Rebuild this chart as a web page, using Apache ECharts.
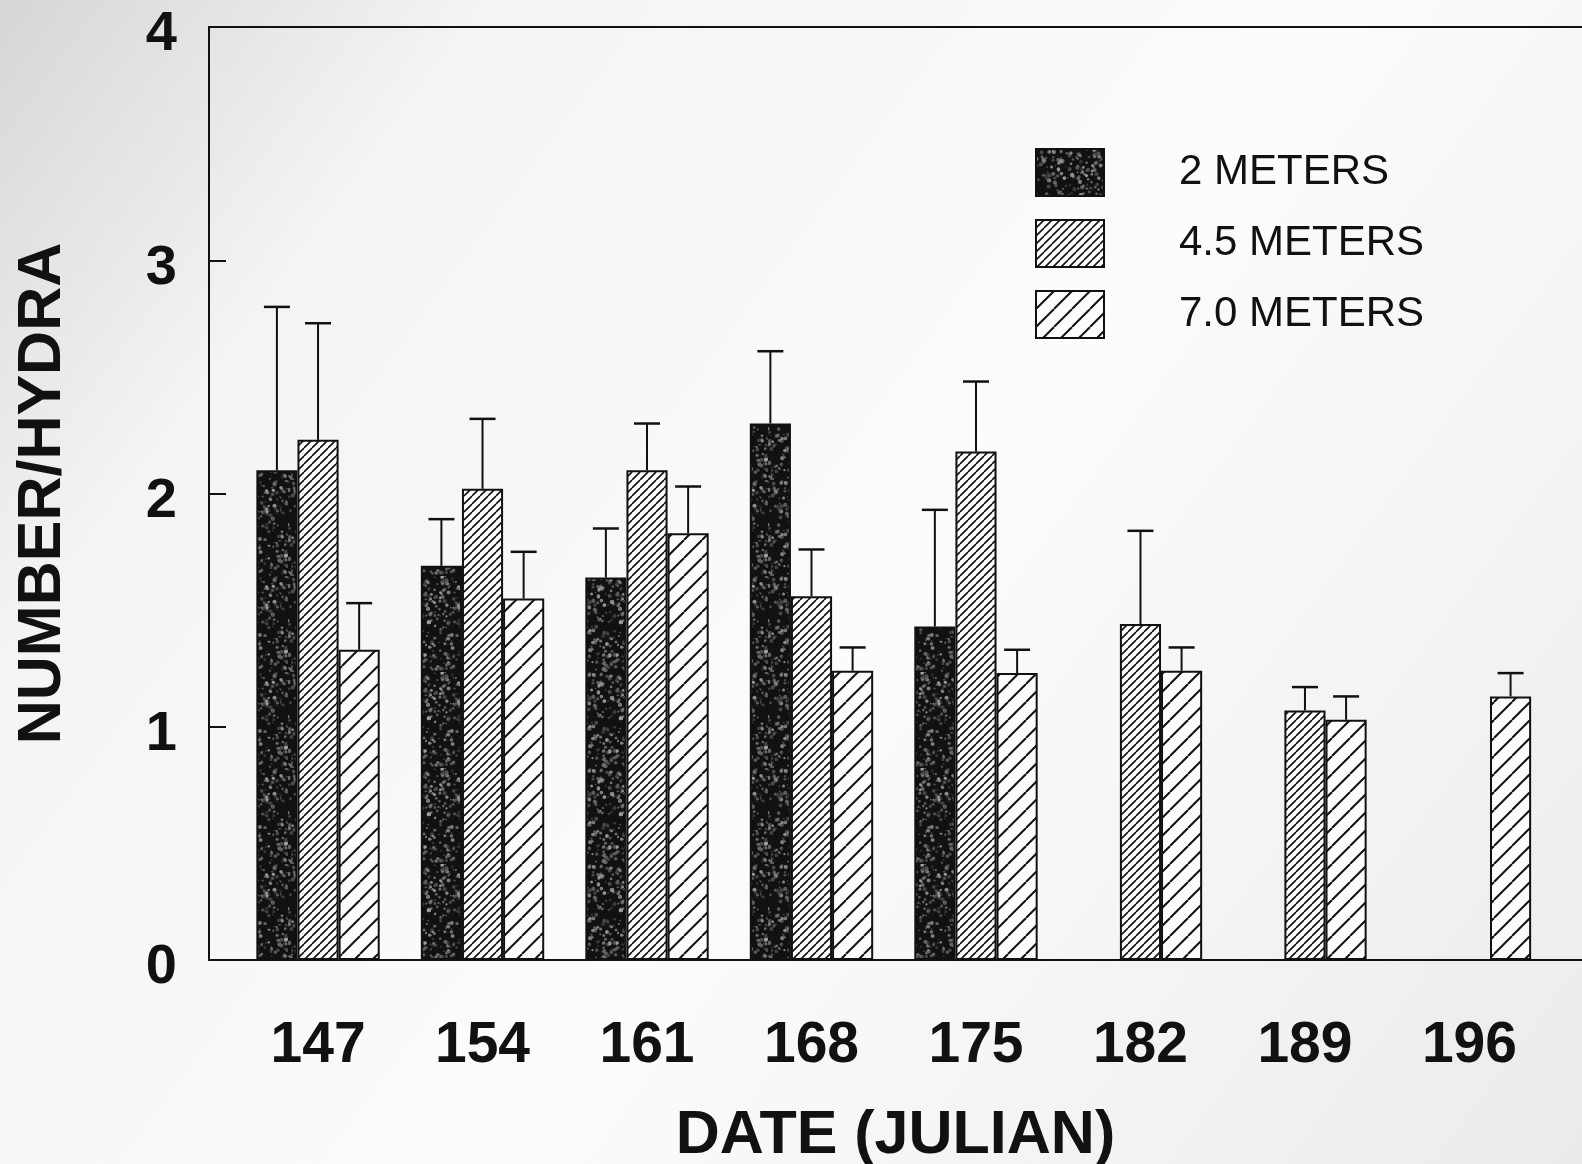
<!DOCTYPE html>
<html><head><meta charset="utf-8">
<script src="https://cdn.jsdelivr.net/npm/echarts@6/dist/echarts.min.js"></script>
<style>html,body{margin:0;padding:0;background:#fff}#c{width:1582px;height:1164px}</style>
</head><body><div id="c"></div>
<script>
// ---- data ----
const dates = [147, 154, 161, 168, 175, 182, 189, 196];
const seriesNames = ['2 METERS', '4.5 METERS', '7.0 METERS'];
const mean2m = [2.10, 1.69, 1.64, 2.30, 1.43, null, null, null];
const err2m  = [0.70, 0.20, 0.21, 0.31, 0.50, null, null, null];
const mean45 = [2.23, 2.02, 2.10, 1.56, 2.18, 1.44, 1.07, null];
const err45  = [0.50, 0.30, 0.20, 0.20, 0.30, 0.40, 0.10, null];
const mean70 = [1.33, 1.55, 1.83, 1.24, 1.23, 1.24, 1.03, 1.13];
const err70  = [0.20, 0.20, 0.20, 0.10, 0.10, 0.10, 0.10, 0.10];
const yTicks = [0, 1, 2, 3, 4];
const xLabels = dates.map(String);

// ---- patterns ----
function stipple() {
  const c = document.createElement('canvas'); c.width = 96; c.height = 96;
  const g = c.getContext('2d');
  g.fillStyle = '#111'; g.fillRect(0, 0, 96, 96);
  let s = 12345;
  const rnd = () => { s = (s * 1103515245 + 12345) % 2147483648; return s / 2147483648; };
  for (let i = 0; i < 420; i++) {
    const x = rnd() * 96, y = rnd() * 96, r = 0.7 + rnd() * 1.5;
    const v = Math.floor(100 + rnd() * 110);
    g.fillStyle = 'rgba(' + v + ',' + v + ',' + v + ',' + (0.3 + rnd() * 0.45).toFixed(2) + ')';
    g.beginPath(); g.arc(x, y, r, 0, Math.PI * 2); g.fill();
  }
  return c;
}
function hatch(sz, lw) {
  const c = document.createElement('canvas'); c.width = sz; c.height = sz;
  const g = c.getContext('2d');
  g.fillStyle = '#fcfcfc'; g.fillRect(0, 0, sz, sz);
  g.strokeStyle = '#111'; g.lineWidth = lw;
  for (let k = -1; k <= 1; k++) {
    g.beginPath(); g.moveTo(k * sz, sz); g.lineTo(k * sz + sz, 0); g.stroke();
  }
  return c;
}
const fills = [
  { image: stipple(), repeat: 'repeat' },
  { image: hatch(8, 1.6), repeat: 'repeat' },
  { image: hatch(18, 2.0), repeat: 'repeat' }
];

const means = [mean2m, mean45, mean70];
const errs = [err2m, err45, err70];

const barSeries = seriesNames.map((name, k) => ({
  name: name,
  type: 'bar',
  barGap: '0%',
  barCategoryGap: '25%',
  data: dates.map((d, i) => [d, means[k][i]]),
  itemStyle: { color: fills[k], borderColor: '#111', borderWidth: 2 },
  emphasis: { disabled: true },
  z: 2
}));

const errData = [];
dates.forEach((d, i) => {
  for (let k = 0; k < 3; k++) {
    if (means[k][i] != null && errs[k][i] != null) errData.push([d, k, means[k][i], errs[k][i]]);
  }
});

const errSeries = {
  type: 'custom',
  encode: { x: 0, y: 2 },
  data: errData,
  z: 5,
  renderItem: function (params, api) {
    const d = api.value(0), k = api.value(1), m = api.value(2), e = api.value(3);
    const band = api.size([7, 0])[0];
    const bw = band * 0.75 / 3;
    const cx = api.coord([d, 0])[0] + (k - 1) * bw;
    const y1 = api.coord([d, m])[1];
    const y2 = api.coord([d, m + e])[1];
    return {
      type: 'group',
      children: [
        { type: 'line', shape: { x1: cx, y1: y1, x2: cx, y2: y2 }, style: { stroke: '#111', lineWidth: 2 } },
        { type: 'line', shape: { x1: cx - 13, y1: y2, x2: cx + 13, y2: y2 }, style: { stroke: '#111', lineWidth: 2.5 } }
      ]
    };
  }
};

const chart = echarts.init(document.getElementById('c'), null, { renderer: 'canvas' });
const FONT = 'Liberation Sans, Arial, Helvetica, sans-serif';
chart.setOption({
  animation: false,
  backgroundColor: {
    type: 'linear', x: 0, y: 0, x2: 1, y2: 1,
    colorStops: [
      { offset: 0, color: '#d6d6d6' },
      { offset: 0.2, color: '#f4f4f4' },
      { offset: 0.55, color: '#fcfcfc' },
      { offset: 1, color: '#ebebeb' }
    ]
  },
  grid: { left: 209, right: 0, top: 27, bottom: 204, containLabel: false, outerBoundsMode: 'none' },
  legend: {
    orient: 'vertical',
    left: 1030, top: 143,
    itemWidth: 68, itemHeight: 47, itemGap: 22,
    icon: 'rect',
    data: seriesNames,
    selectedMode: false,
    itemStyle: { borderColor: '#111', borderWidth: 2 },
    textStyle: { fontFamily: FONT, fontSize: 42, color: '#111', padding: [0, 0, 0, 70], lineHeight: 47 }
  },
  xAxis: [{
    type: 'value',
    min: 142.36, max: 200.79,
    name: 'DATE (JULIAN)',
    nameLocation: 'middle',
    nameGap: 146,
    nameTextStyle: { fontFamily: FONT, fontSize: 61, fontWeight: 'bold', color: '#111' },
    axisLine: { show: true, lineStyle: { color: '#111', width: 2 } },
    axisTick: { show: false },
    splitLine: { show: false },
    axisLabel: {
      customValues: dates,
      formatter: v => xLabels[dates.indexOf(v)] || '',
      margin: 58,
      fontFamily: FONT, fontSize: 57, fontWeight: 'bold', color: '#111'
    }
  }, {
    type: 'value',
    position: 'top',
    min: 142.36, max: 200.79,
    axisLine: { show: true, lineStyle: { color: '#111', width: 2 } },
    axisTick: { show: false },
    axisLabel: { show: false },
    splitLine: { show: false }
  }],
  yAxis: {
    type: 'value',
    min: yTicks[0], max: yTicks[yTicks.length - 1], interval: 1,
    name: 'NUMBER/HYDRA',
    nameLocation: 'middle',
    nameRotate: 90,
    nameGap: 135,
    nameTextStyle: { fontFamily: FONT, fontSize: 61, fontWeight: 'bold', color: '#111' },
    axisLine: { show: true, lineStyle: { color: '#111', width: 2 } },
    axisTick: { show: true, inside: true, length: 17, lineStyle: { color: '#111', width: 2 } },
    splitLine: { show: false },
    axisLabel: {
      margin: 32,
      formatter: v => '{v|' + v + '}',
      rich: {
        v: { padding: [16, 0, 0, 0], fontFamily: FONT, fontSize: 56, fontWeight: 'bold', color: '#111' }
      },
      fontFamily: FONT, fontSize: 56, fontWeight: 'bold', color: '#111'
    }
  },
  series: barSeries.concat([errSeries])
});
</script>
</body></html>
